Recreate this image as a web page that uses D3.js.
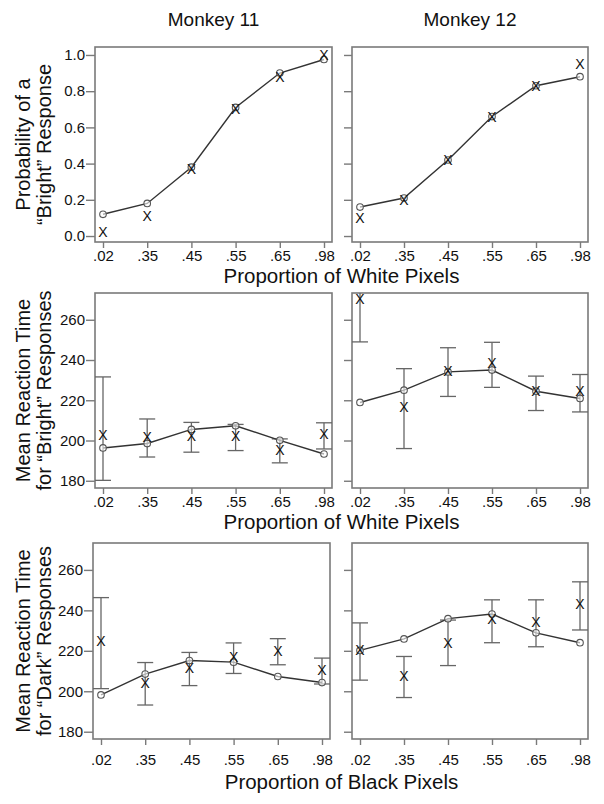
<!DOCTYPE html>
<html><head><meta charset="utf-8">
<script src="https://cdn.jsdelivr.net/npm/d3@7"></script>
<style>
html,body{margin:0;padding:0;background:#fff;}
svg text{font-family:"Liberation Sans",Arial,Helvetica,sans-serif;fill:#111;}
</style></head>
<body>
<svg id="chart" width="604" height="804"></svg>
<script>
// ---------- data ----------
const categories = [".02", ".35", ".45", ".55", ".65", ".98"];
const probTicks = [0, 0.2, 0.4, 0.6, 0.8, 1.0];
const rtTicks = [180, 200, 220, 240, 260];
const monkeys = ["Monkey 11", "Monkey 12"];

// Probability of a "Bright" response: model (circles) and data (x)
const m11ProbModel = [0.12, 0.18, 0.38, 0.71, 0.90, 0.975];
const m11ProbData  = [0.02, 0.11, 0.37, 0.70, 0.88, 1.00];
const m12ProbModel = [0.16, 0.21, 0.42, 0.66, 0.83, 0.88];
const m12ProbData  = [0.10, 0.20, 0.42, 0.66, 0.83, 0.95];

// Mean RT for "Bright" responses
const m11BrightModel = [196.3, 198.5, 205.5, 207.3, 200.1, 193.3];
const m11BrightData  = [202.6, 201.8, 202.1, 202.3, 195.5, 203.1];
const m11BrightLo    = [180.2, 191.8, 194.2, 195.0, 188.9, 195.8];
const m11BrightHi    = [231.6, 210.7, 209.0, 208.0, 200.8, 208.8];
const m12BrightModel = [218.9, 225.0, 234.1, 235.0, 224.5, 220.9];
const m12BrightData  = [270.3, 216.7, 234.6, 238.3, 224.5, 224.5];
const m12BrightLo    = [249.0, 196.0, 221.9, 226.4, 214.9, 214.2];
const m12BrightHi    = [291.0, 235.7, 246.1, 248.8, 232.0, 232.8];

// Mean RT for "Dark" responses
const m11DarkModel = [198.2, 208.5, 215.2, 214.4, 207.3, 204.3];
const m11DarkData  = [224.7, 204.0, 211.5, 217.2, 220.0, 210.6];
const m11DarkLo    = [201.3, 193.2, 202.8, 208.8, 213.1, 203.6];
const m11DarkHi    = [246.3, 214.2, 219.2, 223.9, 226.0, 216.4];
const m12DarkModel = [220.2, 225.9, 235.9, 238.2, 228.9, 224.0];
const m12DarkData  = [220.2, 207.6, 224.0, 235.7, 234.4, 243.1];
const m12DarkLo    = [205.5, 196.9, 212.7, 224.0, 222.0, 230.3];
const m12DarkHi    = [233.8, 217.2, 235.2, 245.2, 245.2, 254.1];

const rowTitles = [
  ["Probability of a", "\u201CBright\u201D Response"],
  ["Mean Reaction Time", "for \u201CBright\u201D Responses"],
  ["Mean Reaction Time", "for \u201CDark\u201D Responses"]
];
const xTitles = ["Proportion of White Pixels", "Proportion of White Pixels", "Proportion of Black Pixels"];

// ---------- layout ----------
const svg = d3.select("#chart");
const frameColor = "#7a7a7a";
const lineColor = "#333";
const barColor = "#666";

const cols = [{l: 95, r: 332}, {l: 352, r: 588}];
const rows = [
  {t: 47, b: 242, domain: [-0.033, 1.044], ticks: probTicks, fmt: d3.format(".1f"), labY: 261, titleY: 283},
  {t: 293, b: 488, domain: [176.4, 273.3], ticks: rtTicks, fmt: d3.format("d"), labY: 507, titleY: 529},
  {t: 543, b: 739, domain: [176.4, 273.3], ticks: rtTicks, fmt: d3.format("d"), labY: 765, titleY: 789}
];

const panels = [
  [{model: m11ProbModel, data: m11ProbData}, {model: m12ProbModel, data: m12ProbData}],
  [{model: m11BrightModel, data: m11BrightData, lo: m11BrightLo, hi: m11BrightHi},
   {model: m12BrightModel, data: m12BrightData, lo: m12BrightLo, hi: m12BrightHi}],
  [{model: m11DarkModel, data: m11DarkData, lo: m11DarkLo, hi: m11DarkHi},
   {model: m12DarkModel, data: m12DarkData, lo: m12DarkLo, hi: m12DarkHi}]
];

rows.forEach((row, ri) => {
  cols.forEach((colBase, ci) => {
    const shift = (ri === 2 && ci === 0) ? -2 : 0;
    const col = {l: colBase.l + shift, r: colBase.r + shift};
    const p = panels[ri][ci];
    const x = d3.scalePoint().domain(categories).range([col.l + 8, col.r - 8]);
    const y = d3.scaleLinear().domain(row.domain).range([row.b, row.t]);
    const g = svg.append("g");
    const clipId = `clip-${ri}-${ci}`;
    svg.append("clipPath").attr("id", clipId).append("rect")
      .attr("x", col.l).attr("y", row.t).attr("width", col.r - col.l).attr("height", row.b - row.t);

    // y axis
    const yAxis = d3.axisLeft(y).tickValues(row.ticks).tickSize(ci === 0 ? 9 : 8)
      .tickFormat(ci === 0 ? row.fmt : () => "").tickPadding(1);
    const ya = g.append("g").attr("transform", `translate(${col.l},0)`).call(yAxis);
    ya.select(".domain").remove();
    ya.selectAll("line").attr("stroke", frameColor).attr("stroke-width", 1.4);
    ya.selectAll("text").style("font-size", "15px").attr("fill", "#111");

    // x axis
    const xAxis = d3.axisBottom(x).tickSize(6).tickPadding(0);
    const xa = g.append("g").attr("transform", `translate(0,${row.b})`).call(xAxis);
    xa.select(".domain").remove();
    xa.selectAll("line").attr("stroke", frameColor).attr("stroke-width", 1.4);
    xa.selectAll("text").style("font-size", "15px").attr("fill", "#111")
      .attr("dy", null).attr("y", row.labY - row.b);

    // frame
    g.append("rect").attr("x", col.l).attr("y", row.t)
      .attr("width", col.r - col.l).attr("height", row.b - row.t)
      .attr("fill", "none").attr("stroke", frameColor).attr("stroke-width", 1.6);

    const inner = g.append("g").attr("clip-path", `url(#${clipId})`);

    // error bars
    if (p.lo) {
      categories.forEach((c, i) => {
        const cx = x(c);
        inner.append("line").attr("x1", cx).attr("x2", cx)
          .attr("y1", y(p.lo[i])).attr("y2", y(p.hi[i]))
          .attr("stroke", barColor).attr("stroke-width", 1.3);
        [p.lo[i], p.hi[i]].forEach(v => {
          inner.append("line").attr("x1", cx - 8).attr("x2", cx + 8)
            .attr("y1", y(v)).attr("y2", y(v))
            .attr("stroke", barColor).attr("stroke-width", 1.3);
        });
      });
    }

    // model line
    const line = d3.line().x((d, i) => x(categories[i])).y(d => y(d));
    inner.append("path").datum(p.model).attr("d", line)
      .attr("fill", "none").attr("stroke", lineColor).attr("stroke-width", 1.4);
    inner.selectAll("circle.m").data(p.model).enter().append("circle")
      .attr("cx", (d, i) => x(categories[i])).attr("cy", d => y(d)).attr("r", 3.3)
      .attr("fill", "#fff").attr("fill-opacity", 0.6).attr("stroke", "#555").attr("stroke-width", 1.1);

    // data markers
    inner.selectAll("text.d").data(p.data).enter().append("text")
      .attr("x", (d, i) => x(categories[i])).attr("y", d => y(d))
      .attr("text-anchor", "middle").attr("dy", "0.36em")
      .style("font-size", "14px").text("X");
  });

  // row y title
  const cy = (row.t + row.b) / 2;
  rowTitles[ri].forEach((txt, li) => {
    const bx = li === 0 ? 30 : 51;
    svg.append("text").attr("transform", `translate(${bx},${cy}) rotate(-90)`)
      .attr("text-anchor", "middle").style("font-size", "20px").text(txt);
  });

  // row x title
  svg.append("text").attr("x", (cols[0].l + cols[1].r) / 2).attr("y", row.titleY)
    .attr("text-anchor", "middle").style("font-size", "20.5px").text(xTitles[ri]);
});

// column titles
monkeys.forEach((m, ci) => {
  svg.append("text").attr("x", (cols[ci].l + cols[ci].r) / 2).attr("y", 26)
    .attr("text-anchor", "middle").style("font-size", "19px").text(m);
});
</script>
</body></html>
